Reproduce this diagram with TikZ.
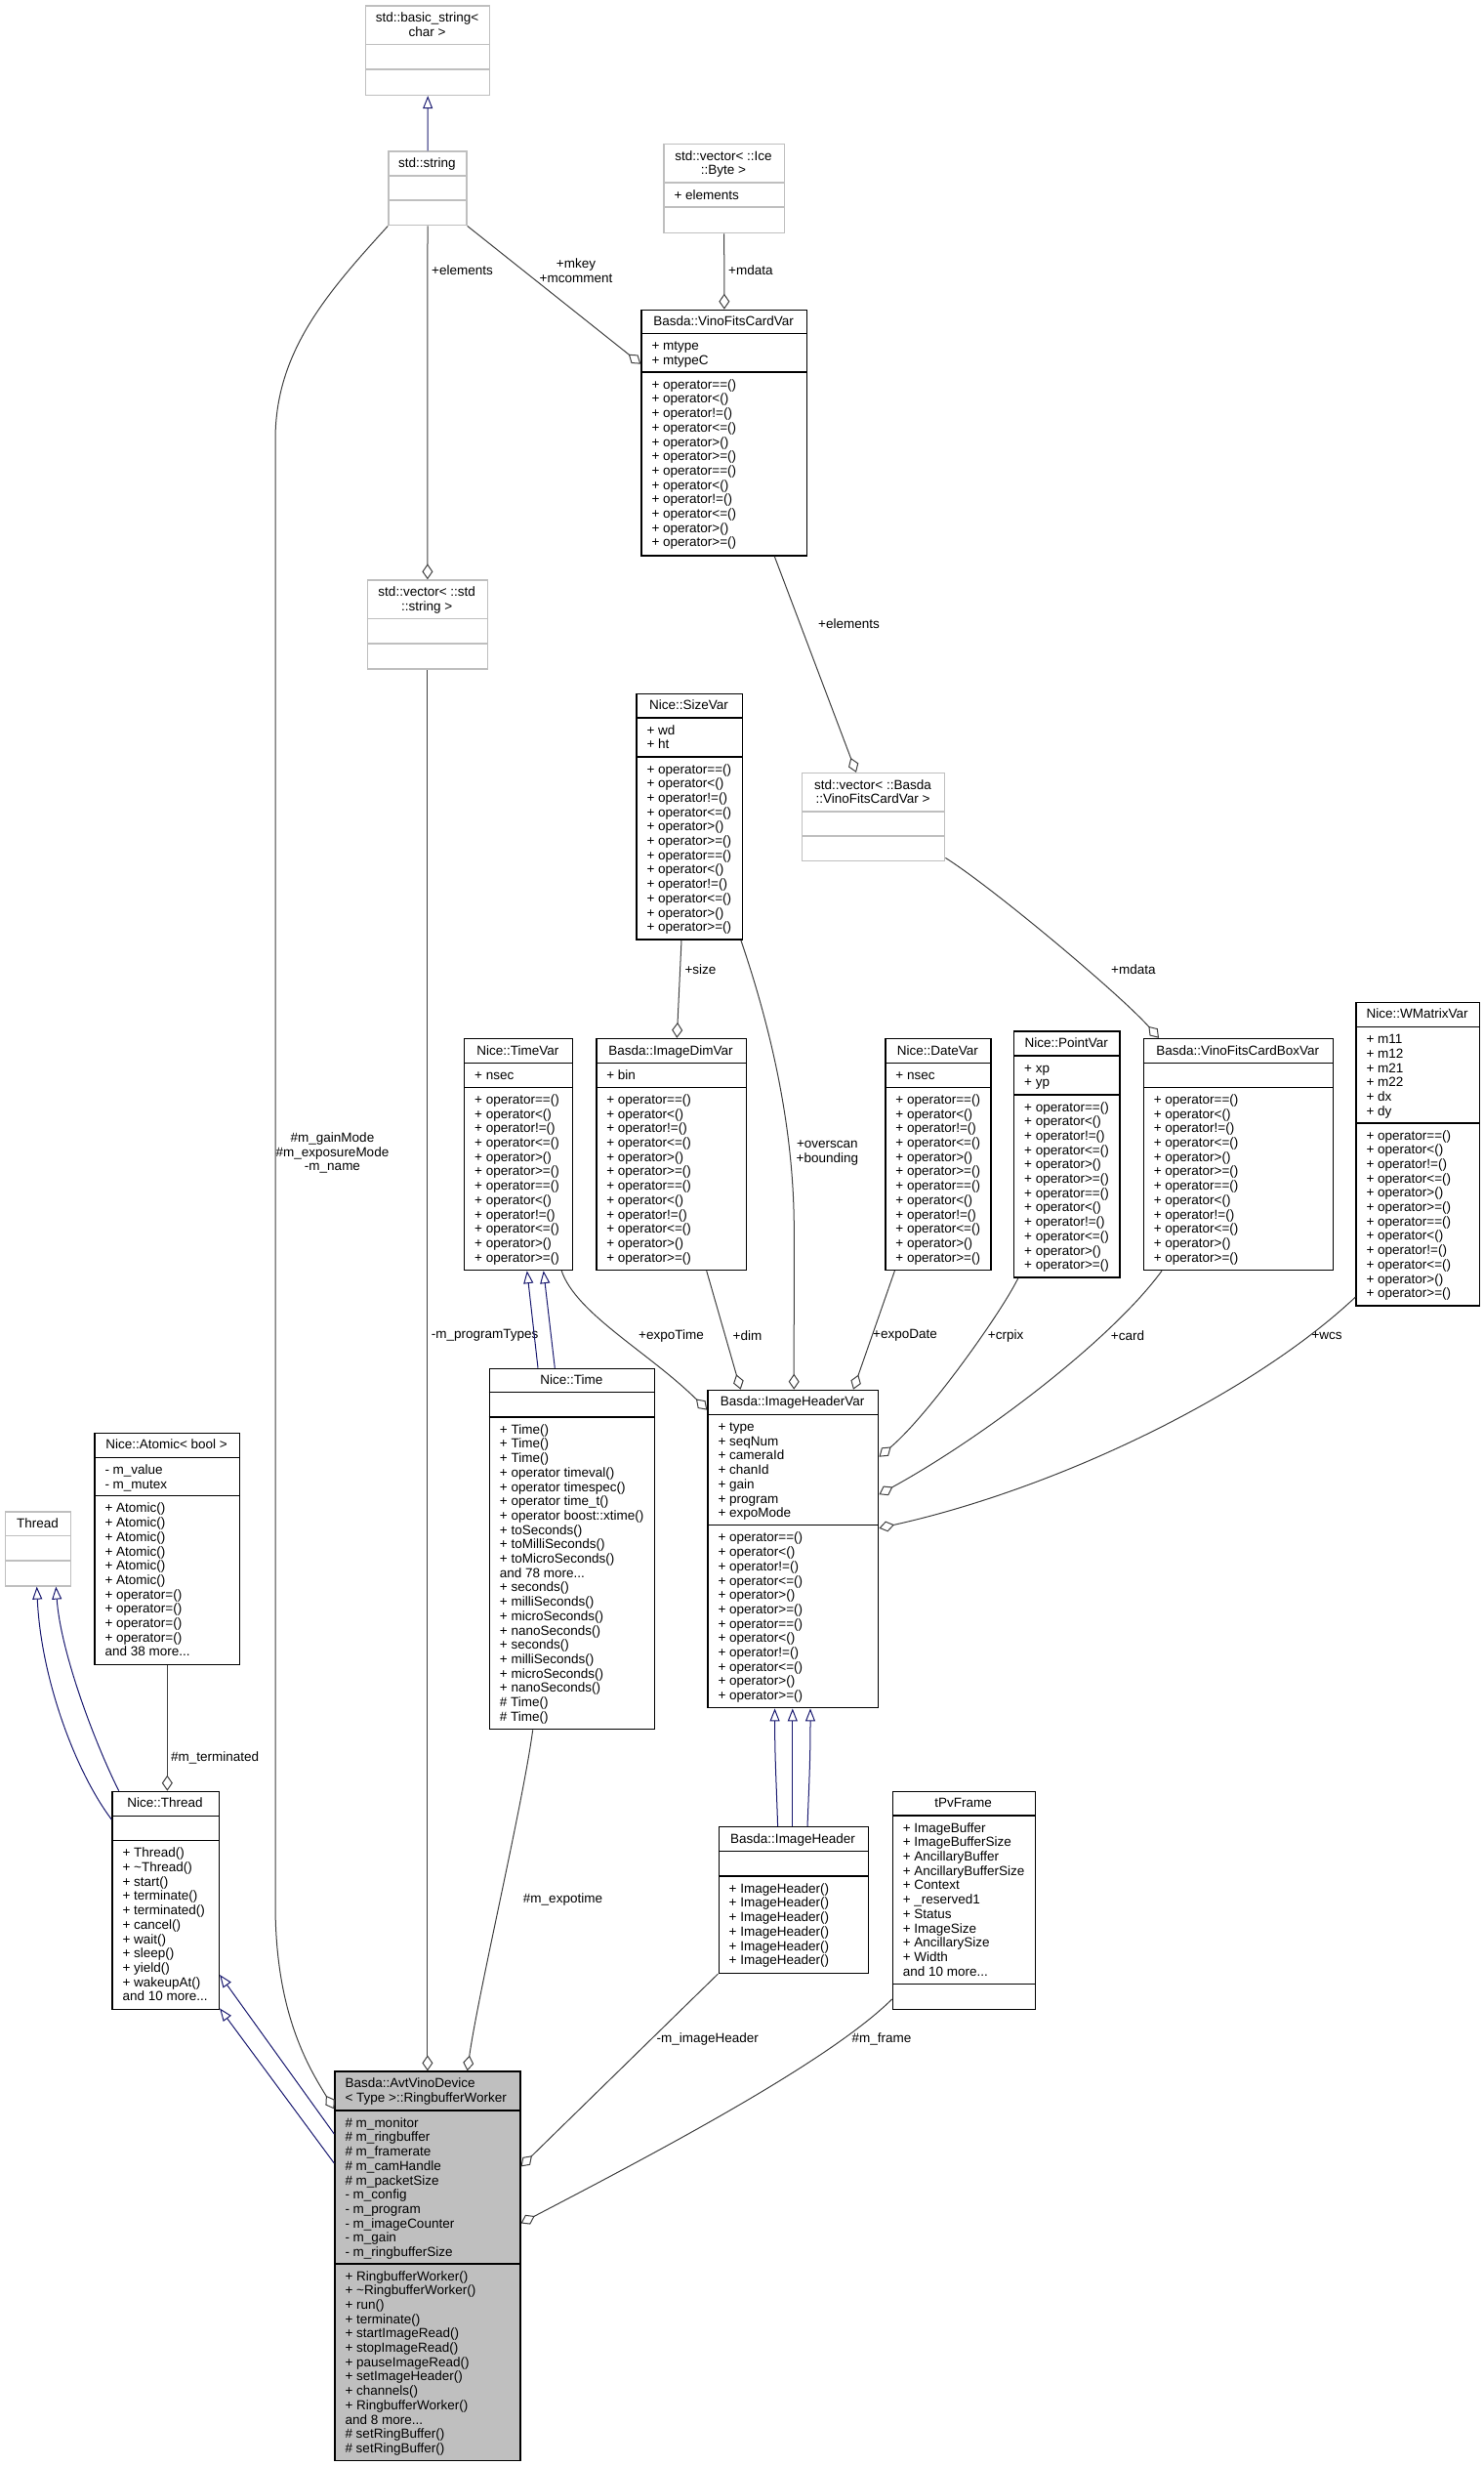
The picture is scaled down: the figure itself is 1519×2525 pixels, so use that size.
\documentclass[tikz,border=0pt]{standalone}
\usepackage{fontspec}
\setmainfont{Liberation Sans}
\usetikzlibrary{arrows.meta,calc}
\definecolor{boxgray}{HTML}{BFBFBF}
\definecolor{linegray}{HTML}{404040}
\definecolor{navyc}{HTML}{191970}
\newcommand{\fs}{\fontsize{13.5}{14.7}\selectfont}
\newcommand{\st}{\rule{0pt}{10.5pt}}
\newcommand{\opsA}{\st+ operator==()\\+ operator<()\\+ operator!=()\\+ operator<=()\\+ operator>()\\+ operator>=()\\+ operator==()\\+ operator<()\\+ operator!=()\\+ operator<=()\\+ operator>()\\+ operator>=()}
\tikzset{
  cbox/.style={draw=black, line width=1.4pt, fill=white, anchor=north west, inner sep=0pt, rectangle},
  gbox/.style={cbox, draw=boxgray},
  sepb/.style={line width=1.4pt, black},
  sepg/.style={line width=1.4pt, boxgray},
  ttl/.style={font=\fs, anchor=north, align=center, inner sep=0pt, yshift=10.5pt},
  txt/.style={font=\fs, anchor=north west, align=left, inner sep=0pt, yshift=10.5pt},
  lbl/.style={font=\fs, inner sep=0pt, align=center},
  agg/.style={draw=linegray, line width=1pt, -{Diamond[fill=white, length=16pt, width=11pt]}},
  inh/.style={draw=navyc, line width=1pt, -{Triangle[fill=white, length=13pt, width=10pt]}},
}
\begin{document}
\begin{tikzpicture}[x=1pt,y=-1pt]
\fill[white] (0,0) rectangle (1519,2525);
\useasboundingbox (0,0) rectangle (1519,2525);

% std::basic_string<char>
\node[gbox, minimum width=127, minimum height=91.4] (bstr) at (374,5.3) {};
\draw[sepg] (374,45.7) -- (501,45.7);
\draw[sepg] (374,71) -- (501,71);
\node[ttl] (bstr-t) at (437.5,22.3) {\st std::basic\_string<\\char >};

% std::string
\node[gbox, minimum width=80, minimum height=75.7] (str) at (397.3,154.3) {};
\draw[sepg] (397.3,180) -- (477.3,180);
\draw[sepg] (397.3,205) -- (477.3,205);
\node[ttl] (str-t) at (437.3,171.3) {\st std::string};

% std::vector< ::Ice::Byte >
\node[gbox, minimum width=123.4, minimum height=91] (vib) at (679.3,147) {};
\draw[sepg] (679.3,187) -- (802.7,187);
\draw[sepg] (679.3,212) -- (802.7,212);
\node[ttl] (vib-t) at (741,164) {\st std::vector< ::Ice\\::Byte >};
\node[txt] (vib-a) at (690.3,204) {\st + elements};

% Basda::VinoFitsCardVar
\node[cbox, minimum width=169.7, minimum height=251.6] (vfcv) at (656.3,316.7) {};
\draw[sepb] (656.3,341.7) -- (826,341.7);
\draw[sepb] (656.3,381) -- (826,381);
\node[ttl] (vfcv-t) at (741.2,333.7) {\st Basda::VinoFitsCardVar};
\node[txt] (vfcv-a) at (667.3,358.7) {\st + mtype\\+ mtypeC};
\node[txt] (vfcv-o) at (667.3,398) {\opsA};

% std::vector< ::std::string >
\node[gbox, minimum width=123, minimum height=91.1] (vstr) at (375.7,593.3) {};
\draw[sepg] (375.7,633.5) -- (498.7,633.5);
\draw[sepg] (375.7,659) -- (498.7,659);
\node[ttl] (vstr-t) at (437.2,610.3) {\st std::vector< ::std\\::string >};

% Nice::SizeVar
\node[cbox, minimum width=108.2, minimum height=251.8] (sizev) at (651.3,709.6) {};
\draw[sepb] (651.3,735) -- (759.5,735);
\draw[sepb] (651.3,774.8) -- (759.5,774.8);
\node[ttl] (sizev-t) at (705.4,726.6) {\st Nice::SizeVar};
\node[txt] (sizev-a) at (662.3,752) {\st + wd\\+ ht};
\node[txt] (sizev-o) at (662.3,791.8) {\opsA};

% std::vector< ::Basda::VinoFitsCardVar >
\node[gbox, minimum width=146, minimum height=90.1] (vvfc) at (821,790.9) {};
\draw[sepg] (821,831) -- (967,831);
\draw[sepg] (821,856) -- (967,856);
\node[ttl] (vvfc-t) at (894,807.9) {\st std::vector< ::Basda\\::VinoFitsCardVar >};

% Nice::TimeVar
\node[cbox, minimum width=110.8, minimum height=237] (timev) at (475,1062.8) {};
\draw[sepb] (475,1088.7) -- (585.8,1088.7);
\draw[sepb] (475,1113.2) -- (585.8,1113.2);
\node[ttl] (timev-t) at (530.4,1079.8) {\st Nice::TimeVar};
\node[txt] (timev-a) at (486,1105.7) {\st + nsec};
\node[txt] (timev-o) at (486,1130.2) {\opsA};

% Basda::ImageDimVar
\node[cbox, minimum width=153.5, minimum height=237] (idimv) at (610.1,1062.8) {};
\draw[sepb] (610.1,1088.7) -- (763.6,1088.7);
\draw[sepb] (610.1,1113.2) -- (763.6,1113.2);
\node[ttl] (idimv-t) at (686.9,1079.8) {\st Basda::ImageDimVar};
\node[txt] (idimv-a) at (621.1,1105.7) {\st + bin};
\node[txt] (idimv-o) at (621.1,1130.2) {\opsA};

% Nice::DateVar
\node[cbox, minimum width=108.2, minimum height=237] (datev) at (906.2,1062.8) {};
\draw[sepb] (906.2,1088.7) -- (1014.4,1088.7);
\draw[sepb] (906.2,1113.2) -- (1014.4,1113.2);
\node[ttl] (datev-t) at (960.3,1079.8) {\st Nice::DateVar};
\node[txt] (datev-a) at (917.2,1105.7) {\st + nsec};
\node[txt] (datev-o) at (917.2,1130.2) {\opsA};

% Nice::PointVar
\node[cbox, minimum width=108.3, minimum height=252.2] (pointv) at (1038,1055.2) {};
\draw[sepb] (1038,1081) -- (1146.3,1081);
\draw[sepb] (1038,1120.8) -- (1146.3,1120.8);
\node[ttl] (pointv-t) at (1092.2,1072.2) {\st Nice::PointVar};
\node[txt] (pointv-a) at (1049,1098) {\st + xp\\+ yp};
\node[txt] (pointv-o) at (1049,1137.8) {\opsA};

% Basda::VinoFitsCardBoxVar
\node[cbox, minimum width=194.1, minimum height=237] (vfcbv) at (1170.6,1062.8) {};
\draw[sepb] (1170.6,1088.7) -- (1364.7,1088.7);
\draw[sepb] (1170.6,1113.2) -- (1364.7,1113.2);
\node[ttl] (vfcbv-t) at (1267.7,1079.8) {\st Basda::VinoFitsCardBoxVar};
\node[txt] (vfcbv-o) at (1181.6,1130.2) {\opsA};

% Nice::WMatrixVar
\node[cbox, minimum width=126.5, minimum height=310.7] (wmatv) at (1388.3,1025.7) {};
\draw[sepb] (1388.3,1051.6) -- (1514.8,1051.6);
\draw[sepb] (1388.3,1149.8) -- (1514.8,1149.8);
\node[ttl] (wmatv-t) at (1451.5,1042.7) {\st Nice::WMatrixVar};
\node[txt] (wmatv-a) at (1399.3,1068.6) {\st + m11\\+ m12\\+ m21\\+ m22\\+ dx\\+ dy};
\node[txt] (wmatv-o) at (1399.3,1166.8) {\opsA};

% Nice::Time
\node[cbox, minimum width=169.3, minimum height=369.3] (ntime) at (500.7,1400.7) {};
\draw[sepb] (500.7,1425.7) -- (670,1425.7);
\draw[sepb] (500.7,1451) -- (670,1451);
\node[ttl] (ntime-t) at (585.3,1417.7) {\st Nice::Time};
\node[txt] (ntime-o) at (511.7,1468) {\st + Time()\\+ Time()\\+ Time()\\+ operator timeval()\\+ operator timespec()\\+ operator time\_t()\\+ operator boost::xtime()\\+ toSeconds()\\+ toMilliSeconds()\\+ toMicroSeconds()\\and 78 more...\\+ seconds()\\+ milliSeconds()\\+ microSeconds()\\+ nanoSeconds()\\+ seconds()\\+ milliSeconds()\\+ microSeconds()\\+ nanoSeconds()\\\# Time()\\\# Time()};

% Basda::ImageHeaderVar
\node[cbox, minimum width=174.7, minimum height=325.3] (ihv) at (724.3,1422.7) {};
\draw[sepb] (724.3,1448.3) -- (899,1448.3);
\draw[sepb] (724.3,1561.7) -- (899,1561.7);
\node[ttl] (ihv-t) at (811.6,1439.7) {\st Basda::ImageHeaderVar};
\node[txt] (ihv-a) at (735.3,1465.3) {\st + type\\+ seqNum\\+ cameraId\\+ chanId\\+ gain\\+ program\\+ expoMode};
\node[txt] (ihv-o) at (735.3,1578.7) {\opsA};

% Basda::ImageHeader
\node[cbox, minimum width=153.1, minimum height=149.6] (ih) at (735.5,1870) {};
\draw[sepb] (735.5,1895.5) -- (888.6,1895.5);
\draw[sepb] (735.5,1921) -- (888.6,1921);
\node[ttl] (ih-t) at (812,1887) {\st Basda::ImageHeader};
\node[txt] (ih-o) at (746.5,1938) {\st + ImageHeader()\\+ ImageHeader()\\+ ImageHeader()\\+ ImageHeader()\\+ ImageHeader()\\+ ImageHeader()};

% tPvFrame
\node[cbox, minimum width=146.3, minimum height=223.2] (tpv) at (913.6,1833.5) {};
\draw[sepb] (913.6,1858.9) -- (1059.9,1858.9);
\draw[sepb] (913.6,2031.3) -- (1059.9,2031.3);
\node[ttl] (tpv-t) at (986.7,1850.5) {\st tPvFrame};
\node[txt] (tpv-a) at (924.6,1875.9) {\st + ImageBuffer\\+ ImageBufferSize\\+ AncillaryBuffer\\+ AncillaryBufferSize\\+ Context\\+ \_reserved1\\+ Status\\+ ImageSize\\+ AncillarySize\\+ Width\\and 10 more...};

% Nice::Atomic< bool >
\node[cbox, minimum width=148.7, minimum height=237.5] (atom) at (96.3,1466.5) {};
\draw[sepb] (96.3,1492.4) -- (245,1492.4);
\draw[sepb] (96.3,1531.7) -- (245,1531.7);
\node[ttl] (atom-t) at (170.6,1483.5) {\st Nice::Atomic< bool >};
\node[txt] (atom-a) at (107.3,1509.4) {\st - m\_value\\- m\_mutex};
\node[txt] (atom-o) at (107.3,1548.7) {\st + Atomic()\\+ Atomic()\\+ Atomic()\\+ Atomic()\\+ Atomic()\\+ Atomic()\\+ operator=()\\+ operator=()\\+ operator=()\\+ operator=()\\and 38 more...};

% Thread
\node[gbox, minimum width=67, minimum height=75.9] (thr) at (5,1547.3) {};
\draw[sepg] (5,1572.3) -- (72,1572.3);
\draw[sepg] (5,1597.8) -- (72,1597.8);
\node[ttl] (thr-t) at (38.5,1564.3) {\st Thread};

% Nice::Thread
\node[cbox, minimum width=109.4, minimum height=222.9] (nthr) at (114.3,1833.7) {};
\draw[sepb] (114.3,1859.2) -- (223.7,1859.2);
\draw[sepb] (114.3,1884.6) -- (223.7,1884.6);
\node[ttl] (nthr-t) at (169,1850.7) {\st Nice::Thread};
\node[txt] (nthr-o) at (125.3,1901.6) {\st + Thread()\\+ \textasciitilde Thread()\\+ start()\\+ terminate()\\+ terminated()\\+ cancel()\\+ wait()\\+ sleep()\\+ yield()\\+ wakeupAt()\\and 10 more...};

% Basda::AvtVinoDevice< Type >::RingbufferWorker
\node[cbox, fill=boxgray, minimum width=189.8, minimum height=398.5] (worker) at (342.3,2120.4) {};
\draw[sepb] (342.3,2161) -- (532.1,2161);
\draw[sepb] (342.3,2317.8) -- (532.1,2317.8);
\node[txt] (worker-t) at (353.3,2137.4) {\st Basda::AvtVinoDevice\\< Type >::RingbufferWorker};
\node[txt] (worker-a) at (353.3,2178) {\st\# m\_monitor\\\# m\_ringbuffer\\\# m\_framerate\\\# m\_camHandle\\\# m\_packetSize\\- m\_config\\- m\_program\\- m\_imageCounter\\- m\_gain\\- m\_ringbufferSize};
\node[txt] (worker-o) at (353.3,2334.8) {\st + RingbufferWorker()\\+ \textasciitilde RingbufferWorker()\\+ run()\\+ terminate()\\+ startImageRead()\\+ stopImageRead()\\+ pauseImageRead()\\+ setImageHeader()\\+ channels()\\+ RingbufferWorker()\\and 8 more...\\\# setRingBuffer()\\\# setRingBuffer()};

% ---------- connectors ----------
\draw[inh] (str.north) -- (bstr.south);
\draw[agg] (vib.south) -- (vfcv.north);
\node[lbl, anchor=west] (l-mdata1) at (746,276.7) {+mdata};
\draw[agg] (str.south east) -- ($(vfcv.north west)+(0,56)$);
\node[lbl] (l-mkey) at (590,277) {+mkey\\+mcomment};
\draw[agg] (str.south) -- (vstr.north);
\node[lbl, anchor=west] (l-elem1) at (442,276.7) {+elements};
\draw[agg] (str.south west) .. controls (335,300) and (282,360) .. (282,450) -- (282,1950) .. controls (282,2060) and (315,2115) .. ($(worker.north west)+(0,39)$);
\node[lbl] (l-gain) at (340.5,1180.6) {\#m\_gainMode\\\#m\_exposureMode\\-m\_name};
\draw[agg] (vstr.south) -- (vstr.south |- worker.north);
\node[lbl, anchor=west] (l-prog) at (441.7,1367.7) {-m\_programTypes};
\draw[agg] ($(vfcv.south west)+(137,0)$) -- ($(vvfc.north west)+(56,0)$);
\node[lbl, anchor=west] (l-elem2) at (838,638.7) {+elements};
\draw[agg] ($(vvfc.south east)+(0,-4)$) .. controls (1017,909) and (1147,1018) .. ($(vfcbv.north west)+(16.4,0)$);
\node[lbl, anchor=west] (l-mdata2) at (1138,993) {+mdata};
\draw[agg] ($(sizev.south west)+(46.7,0)$) -- ($(idimv.north west)+(83.2,0)$);
\node[lbl, anchor=west] (l-size) at (701.4,993) {+size};
\draw[agg] ($(sizev.south east)+(-2,0)$) .. controls (787,1045) and (813.5,1150) .. (813.3,1260) -- ($(ihv.north west)+(88.9,0)$);
\node[lbl] (l-over) at (847.4,1180.4) {+overscan\\+bounding};
\draw[agg] ($(timev.south east)+(-12,0)$) .. controls (590,1345) and (665,1385) .. ($(ihv.north west)+(0,21)$);
\node[lbl] (l-expot) at (687.5,1367.7) {+expoTime};
\draw[agg] ($(idimv.south west)+(113.6,0)$) -- ($(ihv.north west)+(34.3,0)$);
\node[lbl, anchor=west] (l-dim) at (750.5,1367.7) {+dim};
\draw[agg] ($(datev.south west)+(10.2,0)$) -- ($(ihv.north west)+(149.7,0)$);
\node[lbl, anchor=west] (l-expod) at (894,1367.7) {+expoDate};
\draw[agg] ($(pointv.south west)+(4.8,0)$) .. controls (1025,1345) and (950,1450) .. ($(ihv.north east)+(0,69)$);
\node[lbl, anchor=west] (l-crpix) at (1011.7,1367.7) {+crpix};
\draw[agg] ($(vfcbv.south west)+(19.4,0)$) .. controls (1140,1370) and (1010,1470) .. ($(ihv.north east)+(0,107.5)$);
\node[lbl, anchor=west] (l-card) at (1137.7,1367.7) {+card};
\draw[agg] ($(wmatv.south west)+(0,-9.7)$) .. controls (1280,1430) and (1080,1525) .. ($(ihv.north east)+(0,142)$);
\node[lbl, anchor=west] (l-wcs) at (1343.3,1367.7) {+wcs};

\draw[inh] ($(ntime.north west)+(50.3,0)$) -- ($(timev.south west)+(64.8,0)$);
\draw[inh] ($(ntime.north west)+(67.6,0)$) -- ($(timev.south west)+(81.7,0)$);
\draw[inh] ($(ih.north west)+(61.1,0)$) .. controls (795,1820) and (793.6,1800) .. ($(ihv.south west)+(69.3,0)$);
\draw[inh] ($(ih.north west)+(76.3,0)$) -- ($(ihv.south west)+(87.5,0)$);
\draw[inh] ($(ih.north west)+(91.5,0)$) .. controls (829,1820) and (830,1800) .. ($(ihv.south west)+(105.7,0)$);

\draw[agg] (atom.south) -- (atom.south |- nthr.north);
\node[lbl, anchor=west] (l-term) at (175,1800.4) {\#m\_terminated};
\draw[inh] ($(nthr.north west)+(7.4,0)$) .. controls (95,1780) and (62,1690) .. ($(thr.south west)+(52.3,0)$);
\draw[inh] ($(nthr.north west)+(0,29.3)$) .. controls (78,1815) and (42,1720) .. ($(thr.south west)+(32.7,0)$);
\draw[inh] ($(worker.north west)+(0,64.6)$) -- ($(nthr.north east)+(0,188.3)$);
\draw[inh] ($(worker.north west)+(0,94.6)$) -- ($(nthr.south east)+(0,-1.6)$);

\draw[agg] ($(ntime.south west)+(45,0)$) .. controls (535,1850) and (490,2040) .. ($(worker.north west)+(136.3,0)$);
\node[lbl] (l-expotime) at (576.5,1944.7) {\#m\_expotime};
\draw[agg] (ih.south west) -- ($(worker.north east)+(0,98)$);
\node[lbl, anchor=west] (l-ih) at (672.4,2087.6) {-m\_imageHeader};
\draw[agg] ($(tpv.north west)+(0,213.5)$) .. controls (850,2110) and (680,2200) .. ($(worker.north east)+(0,156)$);
\node[lbl, anchor=west] (l-frame) at (872.4,2087.6) {\#m\_frame};
\end{tikzpicture}
\end{document}
